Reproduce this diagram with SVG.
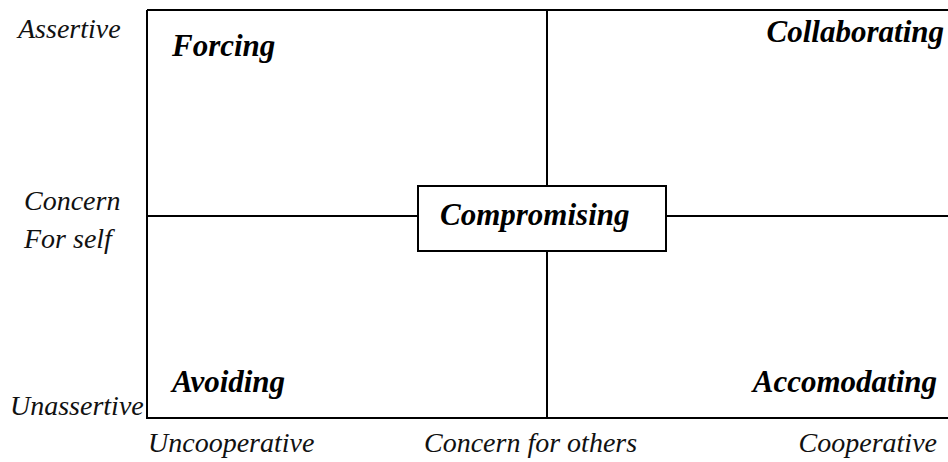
<svg xmlns="http://www.w3.org/2000/svg" width="948" height="462" viewBox="0 0 948 462">
  <rect width="948" height="462" fill="#fff"/>

  <!-- grid -->
  <g id="connectors" stroke="#000" stroke-width="2" fill="none">
    <path d="M147,10 H948"/>
    <path d="M147,10 V418 H948"/>
    <path d="M547,10 V186"/>
    <path d="M547,251 V418"/>
    <path d="M147,216 H418"/>
    <path d="M666,216 H948"/>
  </g>

  <!-- axis labels -->
  <g id="axis-labels" fill="#111">
    <text x="18" y="38" style="font-family: 'Times New Roman', 'Liberation Serif', serif; font-style: italic; font-size: 28px">Assertive</text>
    <text x="24" y="210" style="font-family: 'Times New Roman', 'Liberation Serif', serif; font-style: italic; font-size: 28px">Concern</text>
    <text x="24" y="248" style="font-family: 'Times New Roman', 'Liberation Serif', serif; font-style: italic; font-size: 28px">For self</text>
    <text x="10" y="415" style="font-family: 'Times New Roman', 'Liberation Serif', serif; font-style: italic; font-size: 28px">Unassertive</text>
    <text x="148" y="452" style="font-family: 'Times New Roman', 'Liberation Serif', serif; font-style: italic; font-size: 28px">Uncooperative</text>
    <text x="424" y="452" style="font-family: 'Times New Roman', 'Liberation Serif', serif; font-style: italic; font-size: 28px">Concern for others</text>
    <text x="937" y="452" text-anchor="end" style="font-family: 'Times New Roman', 'Liberation Serif', serif; font-style: italic; font-size: 28px">Cooperative</text>
  </g>

  <!-- conflict modes -->
  <g id="forcing"><text x="172" y="56" style="font-family: 'Times New Roman', 'Liberation Serif', serif; font-style: italic; font-weight: bold; font-size: 31px">Forcing</text></g>
  <g id="collaborating"><text x="944" y="42" text-anchor="end" style="font-family: 'Times New Roman', 'Liberation Serif', serif; font-style: italic; font-weight: bold; font-size: 31px">Collaborating</text></g>
  <g id="avoiding"><text x="172" y="392" style="font-family: 'Times New Roman', 'Liberation Serif', serif; font-style: italic; font-weight: bold; font-size: 31px">Avoiding</text></g>
  <g id="accomodating"><text x="937" y="392" text-anchor="end" style="font-family: 'Times New Roman', 'Liberation Serif', serif; font-style: italic; font-weight: bold; font-size: 31px">Accomodating</text></g>
  <g id="compromising">
    <rect x="418" y="186" width="248" height="65" fill="#fff" stroke="#000" stroke-width="2"/>
    <text x="440" y="225" style="font-family: 'Times New Roman', 'Liberation Serif', serif; font-style: italic; font-weight: bold; font-size: 31px">Compromising</text>
  </g>
</svg>
